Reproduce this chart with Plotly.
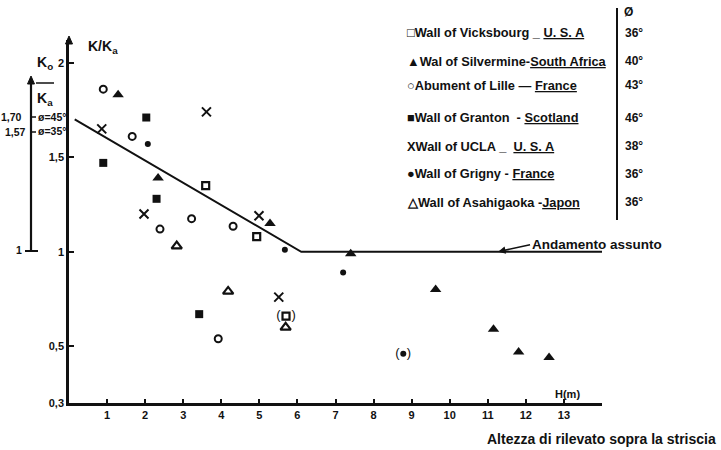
import plotly.graph_objects as go

# ---------------- data ----------------
vicks_x = [3.59, 4.93, 5.70]
vicks_y = [1.35, 1.08, 0.66]
silver_x = [1.29, 2.34, 5.28, 7.40, 9.63, 11.15, 11.81, 12.61]
silver_y = [1.83, 1.39, 1.15, 0.99, 0.80, 0.59, 0.47, 0.44]
lille_x = [0.90, 1.66, 3.22, 2.39, 4.31, 3.92]
lille_y = [1.86, 1.61, 1.175, 1.12, 1.135, 0.54]
granton_x = [2.03, 0.90, 2.30, 3.42]
granton_y = [1.71, 1.47, 1.28, 0.67]
ucla_x = [0.86, 3.61, 1.97, 4.99, 5.51]
ucla_y = [1.65, 1.74, 1.20, 1.19, 0.76]
grigny_x = [2.07, 5.67, 7.20, 8.78]
grigny_y = [1.57, 1.01, 0.89, 0.46]
asahi_x = [2.83, 4.18, 5.69]
asahi_y = [1.03, 0.79, 0.60]

# doubtful values shown in parentheses
paren_x = [5.70, 8.78]
paren_y = [0.66, 0.46]
paren_txt = ["(   )", "(  )"]

# assumed trend ("Andamento assunto")
trend_x = [0.15, 6.1, 14.0]
trend_y = [1.70, 1.0, 1.0]

x_ticks = list(range(1, 14))
y_tick_vals = [0.2, 0.5, 1.0, 1.5, 2.0]
y_tick_text = ["0,3", "0,5", "1", "1,5", "2"]

legend_symbols = ["\u25a1", "\u25b2", "\u25cb", "\u25a0", "X", "\u25cf", "\u25b3"]
legend_names = ["Wall of Vicksbourg", "Wal of Silvermine", "Abument of Lille",
                "Wall of Granton", "Wall of UCLA", "Wall of Grigny", "Wall of Asahigaoka"]
legend_seps = [" _ ", "-", " \u2014 ", "  - ", " _  ", " - ", " -"]
legend_countries = ["U. S. A", "South Africa", "France", "Scotland", "U. S. A", "France", "Japon"]
phi_values = ["36\u00b0", "40\u00b0", "43\u00b0", "46\u00b0", "38\u00b0", "36\u00b0", "36\u00b0"]

# ---------------- layout helpers (reference pixel -> paper) ----------------
W, H = 721, 450
PL, PT = 69, 40            # plot-area top-left in screenshot pixels
PW, PH = 533, 363          # plot-area size
ML, MT = PL, PT
MR, MB = W - ML - PW, H - MT - PH


def xp(px):
    return (px - PL) / PW


def yp(py):
    return 1 - (py - PT) / PH


FONT = "Liberation Sans, Arial, sans-serif"
INK = "#111111"

fig = go.Figure()

fig.add_trace(go.Scatter(x=trend_x, y=trend_y, mode="lines",
                         line=dict(color=INK, width=2), name="Andamento assunto",
                         showlegend=False))

series = [
    (vicks_x, vicks_y, dict(symbol="square-open", size=7, color=INK, line=dict(width=2.2, color=INK))),
    (silver_x, silver_y, dict(symbol="triangle-up", size=10, color=INK)),
    (lille_x, lille_y, dict(symbol="circle-open", size=7, color=INK, line=dict(width=2, color=INK))),
    (granton_x, granton_y, dict(symbol="square", size=8, color=INK)),
    (ucla_x, ucla_y, dict(symbol="x-thin-open", size=9, color=INK, line=dict(width=2, color=INK))),
    (grigny_x, grigny_y, dict(symbol="circle", size=6, color=INK)),
    (asahi_x, asahi_y, dict(symbol="triangle-up-open", size=9, color=INK, line=dict(width=2.2, color=INK))),
]
for (sx, sy, mk), nm in zip(series, legend_names):
    fig.add_trace(go.Scatter(x=sx, y=sy, mode="markers", marker=mk, name=nm, showlegend=False))

fig.add_trace(go.Scatter(x=paren_x, y=paren_y, mode="text", text=paren_txt,
                         textfont=dict(family=FONT, size=13, color=INK),
                         showlegend=False, hoverinfo="skip"))

annotations = []
shapes = []

# legend block (typed text like the original)
legend_rows = [33, 61, 85, 118, 146, 174, 202]
for sym, nm, sep, ct, ph, py in zip(legend_symbols, legend_names, legend_seps,
                                    legend_countries, phi_values, legend_rows):
    annotations.append(dict(xref="paper", yref="paper", x=xp(405), y=yp(py),
                            xanchor="left", yanchor="middle", showarrow=False,
                            text=f"<b>{sym}{nm}{sep}<u>{ct}</u></b>",
                            font=dict(family=FONT, size=12.8, color=INK)))
    annotations.append(dict(xref="paper", yref="paper", x=xp(623), y=yp(py),
                            xanchor="left", yanchor="middle", showarrow=False,
                            text=f"<b>{ph}</b>", font=dict(family=FONT, size=12, color=INK)))
annotations.append(dict(xref="paper", yref="paper", x=xp(622), y=yp(12),
                        xanchor="left", yanchor="middle", showarrow=False,
                        text="<b>\u00d8</b>", font=dict(family=FONT, size=12, color=INK)))
shapes.append(dict(type="line", xref="paper", yref="paper", x0=xp(617), x1=xp(617),
                   y0=yp(8), y1=yp(220), line=dict(color=INK, width=2)))

# axis titles
annotations.append(dict(xref="paper", yref="paper", x=xp(86), y=yp(47),
                        xanchor="left", yanchor="middle", showarrow=False,
                        text="<b>K/K<sub>a</sub></b>", font=dict(family=FONT, size=14, color=INK)))
annotations.append(dict(xref="paper", yref="paper", x=xp(553), y=yp(394),
                        xanchor="left", yanchor="middle", showarrow=False,
                        text="<b>H(m)</b>", font=dict(family=FONT, size=11, color=INK)))
annotations.append(dict(xref="paper", yref="paper", x=xp(718), y=yp(439),
                        xanchor="right", yanchor="middle", showarrow=False,
                        text="<b>Altezza di rilevato sopra la striscia</b>",
                        font=dict(family=FONT, size=14, color=INK)))

# trend label with arrow
annotations.append(dict(xref="x", yref="y", x=11.27, y=1.0, ax=32, ay=-7,
                        xanchor="left", yanchor="middle",
                        text="<b>Andamento assunto</b>", showarrow=True,
                        arrowhead=2, arrowsize=1, arrowwidth=1.5, arrowcolor=INK,
                        font=dict(family=FONT, size=13.5, color=INK)))


def arrow_head(cx, cy):
    return (f"M {xp(cx - 3.5)} {yp(cy + 8)} L {xp(cx)} {yp(cy)} "
            f"L {xp(cx + 3.5)} {yp(cy + 8)} Z")


# arrow tips on the main and secondary vertical axes
shapes.append(dict(type="path", xref="paper", yref="paper", path=arrow_head(PL, 36),
                   fillcolor=INK, line=dict(color=INK, width=1)))
shapes.append(dict(type="path", xref="paper", yref="paper", path=arrow_head(31, 76),
                   fillcolor=INK, line=dict(color=INK, width=1)))

# secondary Ko/Ka scale (phi angles)
sx_px = 31
shapes.append(dict(type="line", xref="paper", yref="paper", x0=xp(sx_px), x1=xp(sx_px),
                   y0=yp(251), y1=yp(80), line=dict(color=INK, width=2.2)))
shapes.append(dict(type="line", xref="paper", yref="paper", x0=xp(25), x1=xp(38),
                   y0=yp(251), y1=yp(251), line=dict(color=INK, width=2)))
shapes.append(dict(type="line", xref="paper", yref="paper", x0=xp(sx_px), x1=xp(36),
                   y0=yp(117), y1=yp(117), line=dict(color=INK, width=1.5)))
shapes.append(dict(type="line", xref="paper", yref="paper", x0=xp(sx_px), x1=xp(36),
                   y0=yp(132), y1=yp(132), line=dict(color=INK, width=1.5)))
for txt, px_, py_, anc in [("1,70", 24, 117, "right"), ("1,57", 28, 132, "right"),
                           ("1", 24, 250, "right"),
                           ("\u00f8=45\u00b0", 36, 117, "left"), ("\u00f8=35\u00b0", 36, 131, "left")]:
    annotations.append(dict(xref="paper", yref="paper", x=xp(px_), y=yp(py_),
                            xanchor=anc, yanchor="middle", showarrow=False, text=f"<b>{txt}</b>",
                            font=dict(family=FONT, size=10.5, color=INK)))
annotations.append(dict(xref="paper", yref="paper", x=xp(45), y=yp(63),
                        xanchor="center", yanchor="middle", showarrow=False,
                        text="<b>K<sub>o</sub></b>", font=dict(family=FONT, size=14, color=INK)))
annotations.append(dict(xref="paper", yref="paper", x=xp(45), y=yp(99),
                        xanchor="center", yanchor="middle", showarrow=False,
                        text="<b>K<sub>a</sub></b>", font=dict(family=FONT, size=14, color=INK)))
shapes.append(dict(type="line", xref="paper", yref="paper", x0=xp(36), x1=xp(54),
                   y0=yp(83), y1=yp(83), line=dict(color=INK, width=1.5)))

fig.update_layout(
    width=W, height=H, autosize=False,
    margin=dict(l=ML, r=MR, t=MT, b=MB, pad=0),
    paper_bgcolor="white", plot_bgcolor="white",
    font=dict(family=FONT, size=11, color=INK),
    showlegend=False,
    xaxis=dict(range=[0, 14], tickvals=x_ticks, ticktext=[f"<b>{v}</b>" for v in x_ticks],
               showgrid=False, zeroline=False, showline=True, linecolor=INK, linewidth=2.5,
               ticks="inside", ticklen=4, tickwidth=2, tickcolor=INK,
               tickfont=dict(family=FONT, size=11, color=INK)),
    yaxis=dict(range=[0.2, 2.12], tickvals=y_tick_vals, ticktext=[f"<b>{t}</b>" for t in y_tick_text],
               showgrid=False, zeroline=False, showline=True, linecolor=INK, linewidth=2.5,
               ticks="inside", ticklen=5, tickwidth=2, tickcolor=INK,
               tickfont=dict(family=FONT, size=11, color=INK)),
    annotations=annotations,
    shapes=shapes,
)

# remove the browser's default 8px page margin so the figure fills the window
fig.write_html("out.html", config={"displayModeBar": False},
               post_script="document.body.style.margin='0';")
